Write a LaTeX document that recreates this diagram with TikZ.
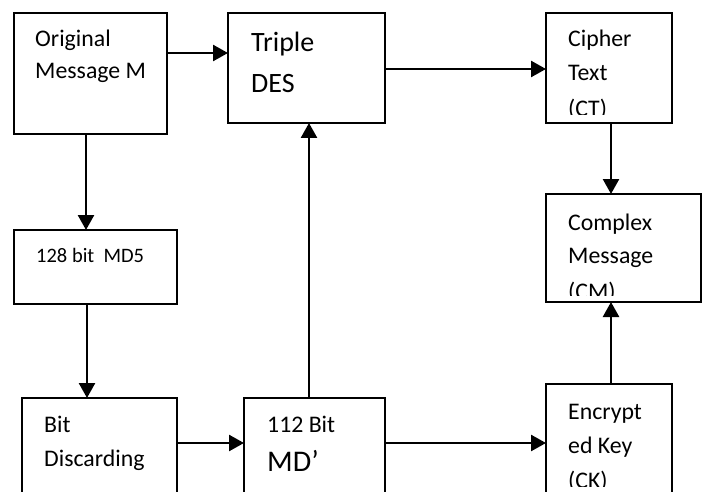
\documentclass[tikz,border=0pt]{standalone}
\usepackage{fontspec}
\setmainfont{Carlito}
\usetikzlibrary{arrows.meta}

\begin{document}
\begin{tikzpicture}[
  x=1pt,
  y=-1pt,
  block/.style={
    draw=black,
    line width=1.5pt,
    rectangle,
    anchor=north west,
    inner sep=0pt,
    outer sep=0pt,
  },
  flow/.style={
    line width=2.5pt,
    -{Triangle[length=15pt,width=16pt]},
  },
  txt/.style={
    inner sep=0pt,
    anchor=base west,
    font=\fontsize{23.8}{28}\selectfont,
  },
  bigtxt/.style={
    txt,
    font=\fontsize{28}{34}\selectfont,
  },
]
\clip (0,0) rectangle (704,492);
\fill[white] (0,0) rectangle (704,492);
\node[block,minimum width=153pt,minimum height=121pt] (orig) at (14,13) {};
\node[block,minimum width=157pt,minimum height=110pt] (des) at (228,13) {};
\node[block,minimum width=126pt,minimum height=110pt] (ct) at (546,13) {};
\node[block,minimum width=163pt,minimum height=74pt] (md5) at (14,230) {};
\node[block,minimum width=155pt,minimum height=108pt] (cm) at (546,194) {};
\node[block,minimum width=155pt,minimum height=120pt] (bd) at (22,398) {};
\node[block,minimum width=141pt,minimum height=120pt] (md) at (244,398) {};
\node[block,minimum width=126pt,minimum height=120pt] (ck) at (546,384) {};
\node[txt] (orig-a) at (35,47) {Original};
\node[txt] (orig-b) at (35,79) {Message M};
\node[bigtxt] (des-a) at (251,52) {Triple};
\node[bigtxt] (des-b) at (251,93) {DES};
\begin{scope}
\clip (ct.north west) rectangle ([yshift=8pt]ct.south east);
\node[txt] (ct-a) at (568,47) {Cipher};
\node[txt] (ct-b) at (568,81) {Text};
\node[txt] (ct-c) at (568,117) {(CT)};
\end{scope}
\node[txt,font=\fontsize{20.5}{24}\selectfont] (md5-a) at (36,262) {128 bit~ MD5};
\begin{scope}
\clip (cm.north west) rectangle ([yshift=7pt]cm.south east);
\node[txt] (cm-a) at (568,230) {Complex};
\node[txt] (cm-b) at (568,263) {Message};
\node[txt] (cm-c) at (568,299) {(CM)};
\end{scope}
\node[txt] (bd-a) at (44,432) {Bit};
\node[txt] (bd-b) at (44,466) {Discarding};
\node[txt] (md-a) at (267,432) {112 Bit};
\node[txt,font=\fontsize{30}{36}\selectfont] (md-b) at (267,471) {MD’};
\begin{scope}
\clip (ck.north west) rectangle ([yshift=-102pt]ck.north east);
\node[txt] (ck-a) at (568,419) {Encrypt};
\node[txt] (ck-b) at (568,453) {ed Key};
\node[txt] (ck-c) at (568,488) {(CK)};
\end{scope}
\draw[flow] ([yshift=-40pt]orig.north east) -- ([yshift=-40pt]des.north west);
\draw[flow] ([yshift=-56pt]des.north east) -- ([yshift=-56pt]ct.north west);
\draw[flow] ([xshift=72pt]orig.south west) -- ([xshift=72pt]md5.north west);
\draw[flow] ([xshift=73pt]md5.south west) -- ([xshift=65pt]bd.north west);
\draw[flow] ([yshift=-45pt]bd.north east) -- ([yshift=-45pt]md.north west);
\draw[flow] ([xshift=65pt]md.north west) -- ([xshift=81pt]des.south west);
\draw[flow] ([yshift=-45pt]md.north east) -- ([yshift=-59pt]ck.north west);
\draw[flow] ([xshift=65pt]ct.south west) -- ([xshift=65pt]cm.north west);
\draw[flow] ([xshift=65pt]ck.north west) -- ([xshift=65pt]cm.south west);
\end{tikzpicture}
\end{document}
